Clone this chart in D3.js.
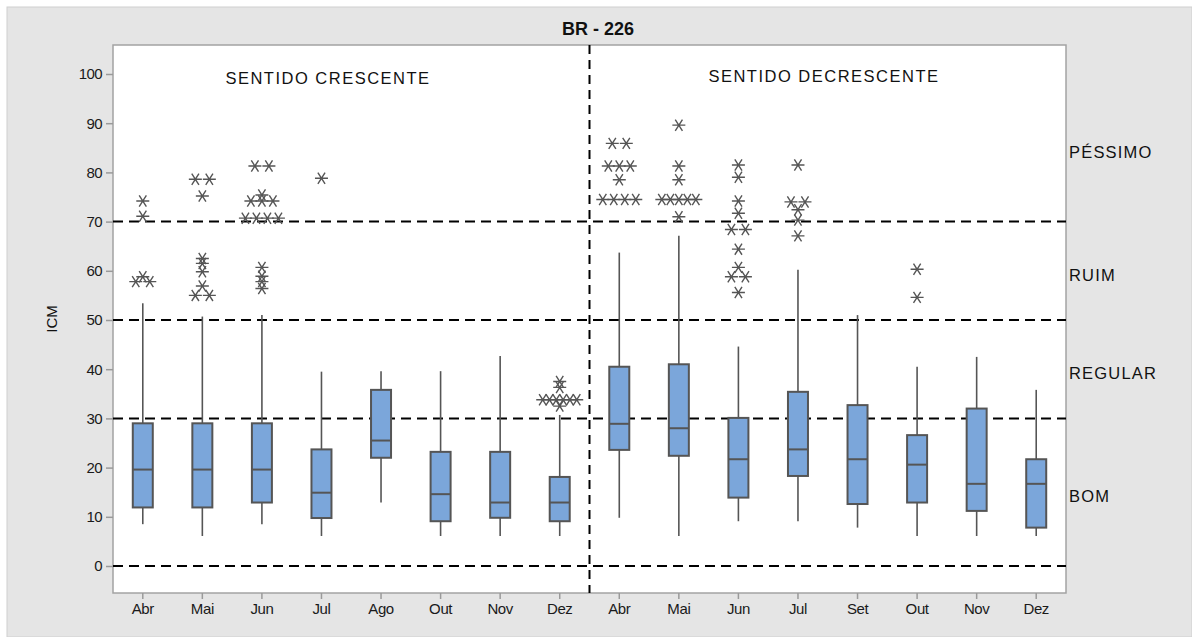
<!DOCTYPE html>
<html>
<head>
<meta charset="utf-8">
<script src="https://cdn.jsdelivr.net/npm/d3@7"></script>
<style>
  html, body { margin: 0; padding: 0; background: #fff; }
  svg { display: block; font-family: "Liberation Sans", Arial, sans-serif; }
</style>
</head>
<body>
<svg id="chart" width="1192" height="637"></svg>
<script>
// ---- data ----
const categories = ["Abr","Mai","Jun","Jul","Ago","Out","Nov","Dez","Abr","Mai","Jun","Jul","Set","Out","Nov","Dez"];
const whiskerLow  = [8.5, 6.1, 8.5, 6.1, 12.9, 6.1, 6.1, 6.1, 9.8, 6.1, 9.1, 9.1, 7.8, 6.1, 6.1, 6.1];
const q1          = [11.9, 11.9, 12.9, 9.75, 22.0, 9.1, 9.8, 9.1, 23.6, 22.4, 13.9, 18.3, 12.6, 12.9, 11.2, 7.8];
const median      = [19.6, 19.6, 19.6, 14.9, 25.5, 14.6, 12.9, 12.9, 28.9, 28.0, 21.7, 23.7, 21.7, 20.6, 16.7, 16.7];
const q3          = [29.0, 29.0, 29.0, 23.7, 35.8, 23.2, 23.2, 18.1, 40.5, 41.0, 30.1, 35.4, 32.7, 26.6, 32.0, 21.7];
const whiskerHigh = [53.4, 50.7, 51.0, 39.5, 39.6, 39.6, 42.7, 30.7, 63.7, 67.1, 44.6, 60.2, 51.0, 40.5, 42.5, 35.8];
const outliers = [
  [74.2, 71.1, 58.8, 57.8, 57.8],
  [78.6, 78.6, 75.2, 62.5, 61.5, 59.8, 56.9, 55.0, 55.0],
  [81.3, 81.3, 75.4, 74.2, 74.2, 74.2, 70.7, 70.7, 70.7, 70.7, 60.7, 58.9, 57.8, 56.4],
  [78.8],
  [],
  [],
  [],
  [37.5, 36.3, 33.8, 33.8, 33.8, 33.8, 33.8, 33.8, 32.5],
  [85.9, 85.9, 81.3, 81.3, 81.3, 78.5, 74.5, 74.5, 74.5, 74.5],
  [89.6, 81.3, 78.5, 74.5, 74.5, 74.5, 74.5, 74.5, 71.0],
  [81.5, 79.0, 74.2, 71.7, 68.4, 68.4, 64.4, 60.7, 58.8, 58.8, 55.6],
  [81.5, 74.0, 74.0, 72.4, 70.3, 67.1],
  [],
  [60.3, 54.6],
  [],
  []
];
const yTicks = [0, 10, 20, 30, 40, 50, 60, 70, 80, 90, 100];
const thresholds = [0, 30, 50, 70];
const zoneBounds = [0, 30, 50, 70, 100];
const zoneLabels = ["BOM", "REGULAR", "RUIM", "PÉSSIMO"];
const sectionLabels = ["SENTIDO CRESCENTE", "SENTIDO DECRESCENTE"];
const title = "BR - 226";
const yLabel = "ICM";

// ---- layout ----
const W = 1192, H = 637;
const plot = { left: 113, top: 45, right: 1066, bottom: 593 };
const svg = d3.select("#chart");

svg.append("rect").attr("x", 7).attr("y", 7).attr("width", W - 7).attr("height", H - 7)
  .attr("fill", "#e5e5e5").attr("stroke", "#cfcfcf").attr("stroke-width", 1);

svg.append("rect").attr("x", plot.left).attr("y", plot.top)
  .attr("width", plot.right - plot.left).attr("height", plot.bottom - plot.top)
  .attr("fill", "#fff").attr("stroke", "#a3a3a3").attr("stroke-width", 1.5);

const idx = categories.map((d, i) => i);
const x = d3.scaleBand().domain(idx).range([plot.left, plot.right]).padding(0);
const cx = i => x(i) + x.bandwidth() / 2;
const y = d3.scaleLinear().domain([0, 100]).range([566, 74]);

// axes
const yAxis = svg.append("g").attr("transform", `translate(${plot.left},0)`)
  .call(d3.axisLeft(y).tickValues(yTicks).tickSize(7).tickPadding(4));
yAxis.select(".domain").remove();
yAxis.selectAll("line").attr("stroke", "#9a9a9a").attr("stroke-width", 1.5);
yAxis.selectAll("text").attr("font-size", 15).attr("fill", "#1a1a1a")
  .attr("letter-spacing", -0.6).attr("font-family", "Liberation Sans, Arial, sans-serif");

const xAxis = svg.append("g").attr("transform", `translate(0,${plot.bottom})`)
  .call(d3.axisBottom(x).tickSize(6).tickPadding(4).tickFormat(i => categories[i]));
xAxis.select(".domain").remove();
xAxis.selectAll("line").attr("stroke", "#9a9a9a").attr("stroke-width", 1.5);
xAxis.selectAll("text").attr("font-size", 15).attr("fill", "#1a1a1a")
  .attr("letter-spacing", -0.4).attr("font-family", "Liberation Sans, Arial, sans-serif");

// threshold dashed lines
svg.append("g").selectAll("line").data(thresholds).join("line")
  .attr("x1", plot.left).attr("x2", plot.right)
  .attr("y1", d => y(d)).attr("y2", d => y(d))
  .attr("stroke", "#000").attr("stroke-width", 2).attr("stroke-dasharray", "10,6");

// vertical divider between the two directions
const divX = x(8);
svg.append("line").attr("x1", divX).attr("x2", divX)
  .attr("y1", plot.top).attr("y2", plot.bottom)
  .attr("stroke", "#000").attr("stroke-width", 2).attr("stroke-dasharray", "9,6");

// boxes
const boxW = 20;
const stroke = "#555";
const g = svg.append("g");
idx.forEach(i => {
  const c = cx(i);
  g.append("line").attr("x1", c).attr("x2", c).attr("y1", y(q3[i])).attr("y2", y(whiskerHigh[i]))
    .attr("stroke", stroke).attr("stroke-width", 1.6);
  g.append("line").attr("x1", c).attr("x2", c).attr("y1", y(q1[i])).attr("y2", y(whiskerLow[i]))
    .attr("stroke", stroke).attr("stroke-width", 1.6);
  g.append("rect").attr("x", c - boxW / 2).attr("y", y(q3[i]))
    .attr("width", boxW).attr("height", y(q1[i]) - y(q3[i]))
    .attr("fill", "#7ba6da").attr("stroke", stroke).attr("stroke-width", 2);
  g.append("line").attr("x1", c - boxW / 2).attr("x2", c + boxW / 2)
    .attr("y1", y(median[i])).attr("y2", y(median[i]))
    .attr("stroke", stroke).attr("stroke-width", 2);
});

// outliers (asterisks), identical values spread horizontally
const star = "M-6.5,0H6.5M-3.6,-5.6L3.6,5.6M-3.6,5.6L3.6,-5.6";
const og = svg.append("g");
outliers.forEach((vals, i) => {
  const groups = d3.group(vals, v => v);
  groups.forEach((arr, v) => {
    const n = arr.length;
    const sp = n === 1 ? 0 : (n === 2 ? 14 : Math.min(11, 34 / (n - 1)));
    arr.forEach((_, k) => {
      const off = (k - (n - 1) / 2) * sp;
      og.append("path").attr("d", star)
        .attr("transform", `translate(${cx(i) + off},${y(v)})`)
        .attr("fill", "none").attr("stroke", "#555").attr("stroke-width", 1.4);
    });
  });
});

// title and labels
svg.append("text").attr("x", 598).attr("y", 35).attr("text-anchor", "middle")
  .attr("font-size", 18).attr("font-weight", "bold").attr("fill", "#111").text(title);

svg.append("text").attr("x", 328).attr("y", 84).attr("text-anchor", "middle")
  .attr("font-size", 16.5).attr("letter-spacing", 1.5).attr("fill", "#111").text(sectionLabels[0]);
svg.append("text").attr("x", 824).attr("y", 82).attr("text-anchor", "middle")
  .attr("font-size", 16.5).attr("letter-spacing", 1.5).attr("fill", "#111").text(sectionLabels[1]);

svg.append("g").selectAll("text").data(zoneLabels).join("text")
  .attr("x", plot.right + 3)
  .attr("y", (d, k) => (y(zoneBounds[k]) + y(zoneBounds[k + 1])) / 2 + 10)
  .attr("font-size", 16.5).attr("letter-spacing", 1.2).attr("fill", "#111").text(d => d);

svg.append("text").attr("transform", `translate(57,${(plot.top + plot.bottom) / 2}) rotate(-90)`)
  .attr("text-anchor", "middle").attr("font-size", 15).attr("fill", "#111").text(yLabel);
</script>
</body>
</html>
